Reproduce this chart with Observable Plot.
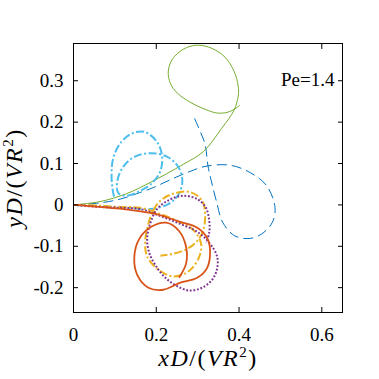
<!DOCTYPE html>
<html><head><meta charset="utf-8">
<script src="https://cdn.jsdelivr.net/npm/d3@7"></script>
<script src="https://cdn.jsdelivr.net/npm/@observablehq/plot@0.6"></script>
<style>html,body{margin:0;padding:0;background:#fff}svg{display:block}</style>
</head><body><div id="chart"></div>
<script>
// ---- data ----
const xTicks = [0, 0.2, 0.4, 0.6];
const xTickLabels = ["0", "0.2", "0.4", "0.6"];
const yTicks = [-0.2, -0.1, 0, 0.1, 0.2, 0.3];
const yTickLabels = ["-0.2", "-0.1", "0", "0.1", "0.2", "0.3"];
const xLabel = "xD/(VR²)";
const yLabel = "yD/(VR²)";
const peLabel = "Pe=1.4";

const greenX = [0, 0.064, 0.128, 0.185, 0.265, 0.314, 0.358, 0.388, 0.398, 0.398, 0.388, 0.366, 0.335, 0.299, 0.265, 0.239, 0.229, 0.234, 0.251, 0.282, 0.318, 0.347, 0.373, 0.393, 0.402];
const greenY = [0, 0.008, 0.027, 0.054, 0.098, 0.129, 0.185, 0.229, 0.263, 0.287, 0.323, 0.357, 0.378, 0.386, 0.376, 0.352, 0.323, 0.294, 0.270, 0.248, 0.231, 0.222, 0.224, 0.234, 0.241];

const blueX = [0, 0.065, 0.113, 0.161, 0.193, 0.241, 0.282, 0.318, 0.378, 0.427, 0.467, 0.487, 0.480, 0.455, 0.427, 0.390, 0.361, 0.345, 0.333, 0.325, 0.318, 0.306, 0.292];
const blueY = [0, 0.005, 0.014, 0.030, 0.042, 0.064, 0.081, 0.093, 0.096, 0.078, 0.046, -0.007, -0.043, -0.070, -0.081, -0.075, -0.043, 0.010, 0.058, 0.094, 0.146, 0.178, 0.210];

const cyanX = [0, 0.041, 0.089, 0.137, 0.186, 0.229, 0.253, 0.263, 0.253, 0.227, 0.186, 0.147, 0.120, 0.106, 0.108, 0.128, 0.161, 0.190, 0.210, 0.214, 0.202, 0.173, 0.142, 0.113, 0.096, 0.092, 0.094, 0.099];
const cyanY = [0, -0.002, -0.005, -0.007, -0.010, 0.002, 0.024, 0.058, 0.092, 0.116, 0.125, 0.116, 0.092, 0.058, 0.029, 0.022, 0.034, 0.053, 0.082, 0.118, 0.152, 0.176, 0.173, 0.149, 0.113, 0.077, 0.041, 0.014];

const orangeX = [0, 0.065, 0.113, 0.161, 0.210, 0.251, 0.289, 0.308, 0.304, 0.280, 0.241, 0.202, 0.178, 0.173, 0.178, 0.190, 0.210, 0.241, 0.282, 0.311, 0.318, 0.313, 0.299, 0.275, 0.241, 0.210];
const orangeY = [0, -0.002, -0.005, -0.007, -0.022, -0.039, -0.060, -0.092, -0.125, -0.159, -0.173, -0.154, -0.125, -0.092, -0.058, -0.019, 0.010, 0.027, 0.031, 0.010, -0.024, -0.063, -0.087, -0.106, -0.118, -0.123];

const purpleX = [0, 0.065, 0.113, 0.161, 0.210, 0.258, 0.299, 0.330, 0.347, 0.347, 0.335, 0.311, 0.280, 0.248, 0.222, 0.200, 0.183, 0.178, 0.186, 0.202, 0.231, 0.265, 0.299, 0.320, 0.328, 0.328, 0.320];
const purpleY = [0, -0.005, -0.007, -0.010, -0.027, -0.046, -0.065, -0.094, -0.125, -0.154, -0.181, -0.200, -0.207, -0.195, -0.176, -0.149, -0.116, -0.080, -0.043, -0.010, 0.012, 0.022, 0.014, -0.007, -0.039, -0.067, -0.092];

const redX = [0, 0.065, 0.137, 0.200, 0.258, 0.299, 0.323, 0.330, 0.323, 0.299, 0.258, 0.217, 0.181, 0.154, 0.147, 0.159, 0.188, 0.224, 0.255, 0.272, 0.272, 0.255];
const redY = [0, -0.005, -0.012, -0.022, -0.041, -0.055, -0.080, -0.111, -0.152, -0.176, -0.188, -0.205, -0.200, -0.169, -0.125, -0.082, -0.053, -0.043, -0.063, -0.101, -0.142, -0.176];

// ---- build table ----
const seriesNames = ["blue", "green", "cyan", "orange", "purple", "red"];
const seriesData = {blue: [blueX, blueY], green: [greenX, greenY], cyan: [cyanX, cyanY], orange: [orangeX, orangeY], purple: [purpleX, purpleY], red: [redX, redY]};
const rows = [];
for (const s of seriesNames) {
  const [xs, ys] = seriesData[s];
  xs.forEach((x, i) => rows.push({series: s, x, y: ys[i]}));
}

// ---- styles ----
const styles = {
  blue:   {stroke: "#0072BD", strokeWidth: 1,   strokeDasharray: "10,5"},
  green:  {stroke: "#77AC30", strokeWidth: 1,   strokeDasharray: null},
  cyan:   {stroke: "#4DBEEE", strokeWidth: 2,   strokeDasharray: "8,2.5,2,2.5"},
  orange: {stroke: "#EDB120", strokeWidth: 2,   strokeDasharray: "8,2.5,2,2.5"},
  purple: {stroke: "#7E2F8E", strokeWidth: 2,   strokeDasharray: "1.8,1.8"},
  red:    {stroke: "#D95319", strokeWidth: 1.8, strokeDasharray: null}
};

const serif = "Liberation Serif";

const chart = Plot.plot({
  width: 379, height: 379,
  marginLeft: 73, marginRight: 37, marginTop: 43, marginBottom: 67,
  x: {domain: [0, 0.65]},
  y: {domain: [-0.26, 0.39]},
  style: {fontFamily: serif, fontSize: "19px", background: "#fff", color: "#000", overflow: "visible"},
  marks: [
    ...seriesNames.map(s => Plot.line(rows.filter(d => d.series === s), {
      x: "x", y: "y", curve: "catmull-rom",
      stroke: styles[s].stroke, strokeWidth: styles[s].strokeWidth,
      strokeDasharray: styles[s].strokeDasharray, strokeLinecap: "butt"
    })),
    Plot.frame({stroke: "#000", strokeWidth: 1}),
    Plot.axisX(xTicks, {anchor: "bottom", tickSize: -5, tickPadding: 20, tickFormat: (d, i) => xTickLabels[i], label: null, fontSize: 19, fontFamily: serif}),
    Plot.axisX(xTicks, {anchor: "top", tickSize: -5, tickFormat: () => "", label: null}),
    Plot.axisY(yTicks, {anchor: "left", tickSize: -5, tickPadding: 15, tickFormat: (d, i) => yTickLabels[i], label: null, fontSize: 19, fontFamily: serif}),
    Plot.axisY(yTicks, {anchor: "right", tickSize: -5, tickFormat: () => "", label: null}),
    Plot.text([peLabel], {frameAnchor: "top-right", text: d => d, dx: -8, dy: 36, textAnchor: "end", lineAnchor: "middle", fontSize: 19, fontFamily: serif}),
    Plot.text([xLabel], {frameAnchor: "bottom", text: d => d, dy: 53, textAnchor: "middle", lineAnchor: "bottom", fontSize: 24, fontFamily: serif}),
    Plot.text([yLabel], {frameAnchor: "left", text: d => d, dx: -52, rotate: -90, textAnchor: "middle", lineAnchor: "bottom", fontSize: 24, fontFamily: serif})
  ]
});

// math-style labels
d3.select(chart).selectAll("text").each(function () {
  const t = this.textContent;
  if (t === xLabel || t === yLabel) {
    const v = t.charAt(0);
    this.textContent = "";
    this.setAttribute("letter-spacing", "1.5");
    const sel = d3.select(this);
    sel.append("tspan").attr("font-style", "italic").text(v + "D");
    sel.append("tspan").text("/(");
    sel.append("tspan").attr("font-style", "italic").text("VR");
    sel.append("tspan").attr("font-size", 15).attr("dy", -9).text("2");
    sel.append("tspan").attr("dy", 9).text(")");
  }
});

document.getElementById("chart").appendChild(chart);
</script>
</body></html>
